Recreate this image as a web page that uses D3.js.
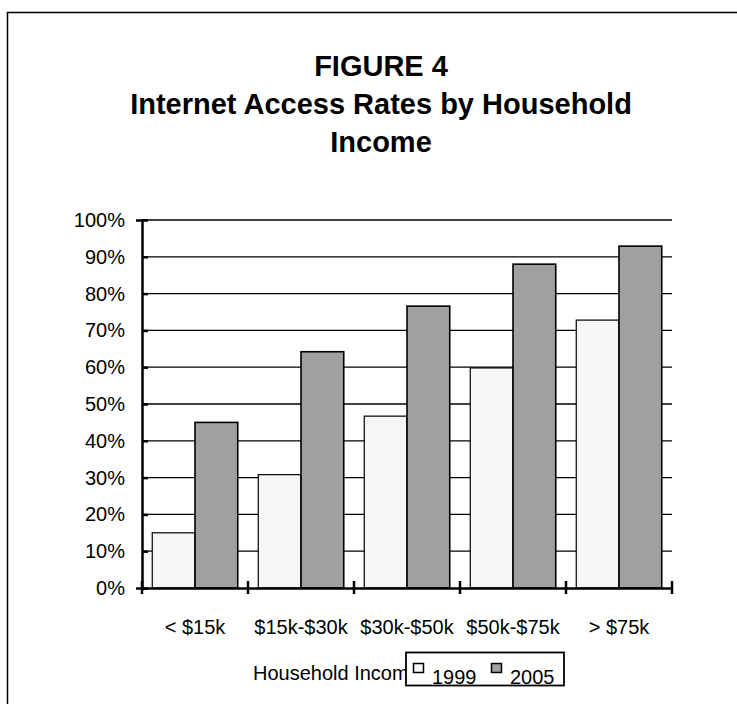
<!DOCTYPE html>
<html>
<head>
<meta charset="utf-8">
<script src="https://cdn.jsdelivr.net/npm/d3@7"></script>
<style>
  html, body { margin: 0; padding: 0; background: #fff; }
  svg { display: block; font-family: "Liberation Sans", Arial, sans-serif; }
</style>
</head>
<body>
<div id="chart"></div>
<script>
// data
const categories = ['< $15k', '$15k-$30k', '$30k-$50k', '$50k-$75k', '> $75k'];
const seriesNames = ['1999', '2005'];
const values1999 = [15, 30.8, 46.7, 59.8, 72.8];
const values2005 = [45, 64.2, 76.6, 88, 92.9];
const yTicks = [0, 10, 20, 30, 40, 50, 60, 70, 80, 90, 100];
const titleLines = ['FIGURE 4', 'Internet Access Rates by Household', 'Income'];
const fills = ['#f6f6f6', '#a0a0a0'];

const width = 737, height = 704;
const labelFont = '20px';
const svg = d3.select('#chart').append('svg')
    .attr('width', width)
    .attr('height', height);

// outer frame (right/bottom run off the page)
svg.append('rect')
    .attr('x', 7.5).attr('y', 12.5)
    .attr('width', 760).attr('height', 720)
    .attr('fill', 'none')
    .attr('stroke', '#000')
    .attr('stroke-width', 1.5);

// title
svg.append('g').selectAll('text').data(titleLines).join('text')
    .attr('x', 381)
    .attr('y', (d, i) => 76 + i * 38)
    .attr('text-anchor', 'middle')
    .attr('font-size', '29px')
    .attr('font-weight', 'bold')
    .text(d => d);

const plot = { left: 142, right: 672, top: 220, bottom: 588 };

const x = d3.scaleBand().domain(categories).range([plot.left, plot.right]).paddingInner(0).paddingOuter(0);
const xInner = d3.scaleBand().domain(seriesNames).range([0, x.bandwidth()]).paddingOuter(0.24).paddingInner(0);
const y = d3.scaleLinear().domain([0, 100]).range([plot.bottom, plot.top]);

// gridlines
svg.append('g').selectAll('line').data(yTicks.filter(t => t > 0)).join('line')
    .attr('x1', plot.left).attr('x2', plot.right)
    .attr('y1', d => y(d)).attr('y2', d => y(d))
    .attr('stroke', '#000').attr('stroke-width', 1.3);

// bars
const rows = categories.map((c, i) => ({ cat: c, vals: [values1999[i], values2005[i]] }));
const group = svg.append('g').selectAll('g').data(rows).join('g')
    .attr('transform', d => `translate(${x(d.cat)},0)`);
group.selectAll('rect').data(d => d.vals.map((v, j) => ({ s: seriesNames[j], v, j }))).join('rect')
    .attr('x', d => xInner(d.s))
    .attr('width', xInner.bandwidth())
    .attr('y', d => y(d.v))
    .attr('height', d => y(0) - y(d.v))
    .attr('fill', d => fills[d.j])
    .attr('stroke', '#000')
    .attr('stroke-width', d => d.j === 1 ? 1.6 : 1.2);

// y axis
const yAxis = svg.append('g')
    .attr('transform', `translate(${plot.left},0)`)
    .call(d3.axisLeft(y).tickValues(yTicks).tickFormat(d => d + '%').tickSize(6).tickPadding(11));
yAxis.select('.domain').attr('stroke-width', 2.5);
yAxis.selectAll('.tick line').attr('x2', 6).attr('stroke-width', 2.5);
yAxis.selectAll('.tick text').attr('font-size', labelFont).attr('fill', '#000')
    .attr('font-family', '"Liberation Sans", Arial, sans-serif');

// x axis
const xAxis = svg.append('g')
    .attr('transform', `translate(0,${plot.bottom})`)
    .call(d3.axisBottom(x).tickSize(0).tickPadding(32));
xAxis.select('.domain').attr('stroke-width', 2.5);
xAxis.selectAll('.tick text').attr('font-size', labelFont).attr('fill', '#000')
    .attr('font-family', '"Liberation Sans", Arial, sans-serif');
// category separator ticks
xAxis.append('g').selectAll('line').data(categories.map(c => x(c)).concat([plot.right])).join('line')
    .attr('x1', d => d).attr('x2', d => d)
    .attr('y1', -7).attr('y2', 6)
    .attr('stroke', '#000').attr('stroke-width', 2.5);

// axis title (partly hidden by the legend box)
svg.append('text')
    .attr('x', 253).attr('y', 680)
    .attr('font-size', labelFont)
    .text('Household Income');

// legend
const legend = svg.append('g');
legend.append('rect')
    .attr('x', 406).attr('y', 652.5)
    .attr('width', 158).attr('height', 33)
    .attr('fill', '#fff').attr('stroke', '#000').attr('stroke-width', 1.8);
const legendX = d3.scalePoint().domain(seriesNames).range([413, 491]);
const item = legend.selectAll('g.item').data(seriesNames).join('g').attr('class', 'item')
    .attr('transform', d => `translate(${legendX(d)},0)`);
item.append('rect')
    .attr('x', 0.5).attr('y', 663.5)
    .attr('width', 10).attr('height', 9)
    .attr('fill', (d, i) => fills[i])
    .attr('stroke', '#000').attr('stroke-width', 1.5);
item.append('text')
    .attr('x', 19).attr('y', 684)
    .attr('font-size', labelFont)
    .text(d => d);
</script>
</body>
</html>
